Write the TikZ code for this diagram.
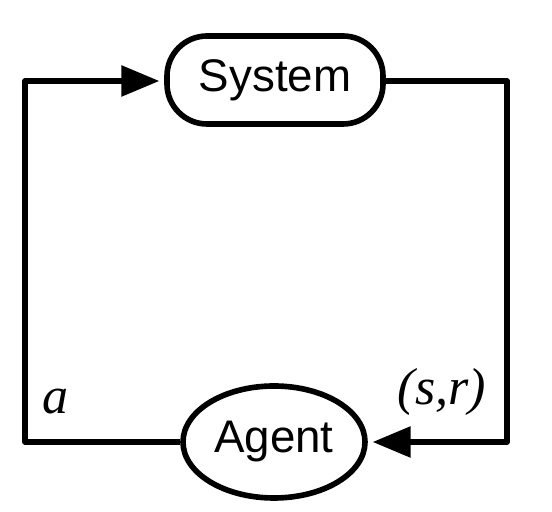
\documentclass[tikz,border=0pt]{standalone}
\usepackage{fontspec}
\setmainfont{Liberation Sans}
\newfontfamily\labelfont{Liberation Serif}
\usetikzlibrary{shapes.geometric, arrows.meta, positioning}

\begin{document}
\begin{tikzpicture}[
  block/.style={rectangle, draw, line width=4pt, rounded corners=1cm, fill=white, minimum width=5.4cm, minimum height=2.2cm, align=center, font=\fontsize{32.5}{38}\selectfont},
  blob/.style={ellipse, draw, line width=4pt, fill=white, minimum width=4.55cm, minimum height=2.8cm, inner sep=0pt, align=center, font=\fontsize{32.5}{38}\selectfont},
  flow/.style={line width=4pt, line join=round, -{Triangle[length=0.95cm, width=0.75cm]}, shorten >=0.12cm},
  tag/.style={font=\labelfont\itshape\fontsize{37}{42}\selectfont}
]
\useasboundingbox (0,0) rectangle (13.8,12.8);
\node[block] (system) at (6.875, 10.8) {System};
\node[blob] (agent) at (6.85, 1.75) {Agent};
\coordinate (topleft) at (0.625, 10.775);
\coordinate (topright) at (12.675, 10.775);

\draw[flow] (agent.west) -- (agent.west -| topleft) -- (topleft) -- (system.west |- topleft);
\draw[flow] (system.east |- topright) -- (topright) -- (topright |- agent.east) -- (agent.east);

\node[tag] (act) at (1.4, 2.75) {a};
\node[tag] (obs) at (11.05, 3.0) {(s,r)};
\end{tikzpicture}
\end{document}
